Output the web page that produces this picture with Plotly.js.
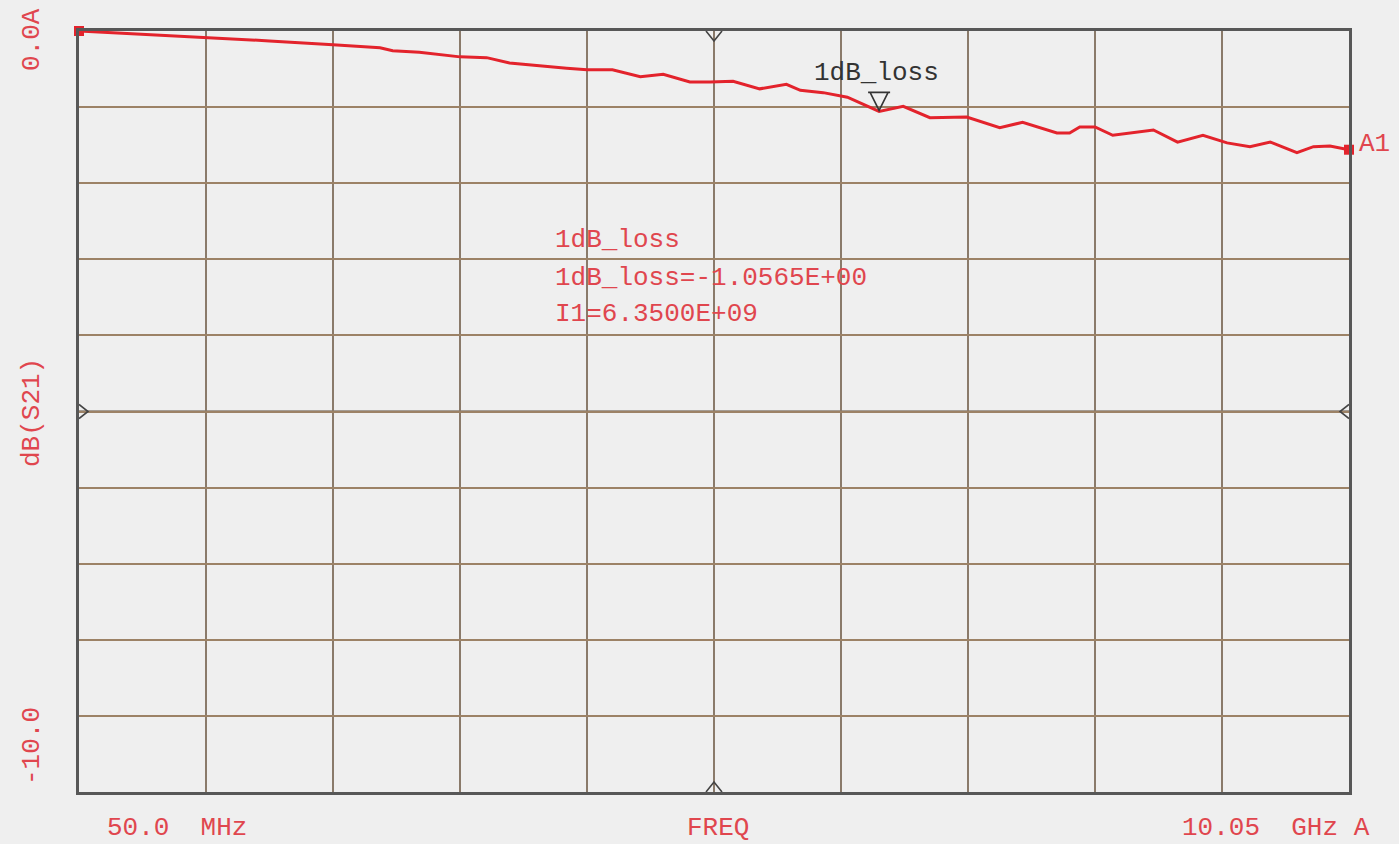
<!DOCTYPE html>
<html>
<head>
<meta charset="utf-8">
<script src="https://cdn.plot.ly/plotly-3.0.1.min.js"></script>
<style>
  html, body { margin: 0; padding: 0; background: #efefef; }
  #chart { width: 1399px; height: 844px; }
</style>
</head>
<body>
<div id="chart"></div>
<script>
// Frequency (GHz) and dB(S21)
const freqGHz = [0.05, 0.53, 1.06, 1.55, 2.05, 2.42, 2.52, 2.73, 3.05, 3.26, 3.44, 3.68, 3.89, 4.05, 4.25, 4.47, 4.65, 4.86, 5.02, 5.20, 5.41, 5.62, 5.73, 5.91, 6.10, 6.35, 6.54, 6.75, 7.04, 7.30, 7.48, 7.75, 7.85, 7.93, 8.05, 8.19, 8.51, 8.70, 8.90, 9.09, 9.27, 9.43, 9.64, 9.77, 9.90, 10.05];
const dbS21 = [0.000, -0.04, -0.09, -0.13, -0.18, -0.22, -0.26, -0.28, -0.34, -0.35, -0.42, -0.46, -0.49, -0.51, -0.51, -0.60, -0.57, -0.67, -0.67, -0.66, -0.76, -0.70, -0.78, -0.81, -0.87, -1.0565, -0.99, -1.14, -1.13, -1.27, -1.20, -1.34, -1.34, -1.26, -1.26, -1.37, -1.30, -1.46, -1.37, -1.47, -1.52, -1.46, -1.60, -1.52, -1.51, -1.56];

// Axis ranges and labels
const xRange = [0.05, 10.05];
const yRange = [-10, 0];
const xTickLabels = ["50.0  MHz", "FREQ", "10.05  GHz A"];
const yTickLabels = ["0.0A", "dB(S21)", "-10.0"];

// Marker
const markerName = "1dB_loss";
const markerFreq = 6.35;
const markerValue = -1.0565;
const markerLines = ["1dB_loss", "1dB_loss=-1.0565E+00", "I1=6.3500E+09"];
const traceName = "A1";

const RED = '#e0464e';
const LINE_RED = '#e3232c';
const FONT = '"Courier New", "Liberation Mono", monospace';

const xMid = (xRange[0] + xRange[1]) / 2;
const yMid = (yRange[0] + yRange[1]) / 2;

const traces = [
  {
    x: freqGHz, y: dbS21, type: 'scatter', mode: 'lines',
    line: { color: LINE_RED, width: 3 }, hoverinfo: 'skip', cliponaxis: false
  },
  {
    x: [freqGHz[0], freqGHz[freqGHz.length - 1]],
    y: [dbS21[0], dbS21[dbS21.length - 1]],
    type: 'scatter', mode: 'markers',
    marker: { symbol: 'square', size: 10, color: LINE_RED },
    cliponaxis: false, hoverinfo: 'skip'
  }
];

const ann = [];
function paperX(px) { return (px - 79) / 1270; }
function paperY(py) { return (792 - py) / 761; }

// y labels (rotated)
[[40, yTickLabels[0]], [413, yTickLabels[1]], [746, yTickLabels[2]]].forEach(([py, t]) => {
  ann.push({ xref: 'paper', yref: 'paper', x: paperX(32), y: paperY(py), text: t, showarrow: false,
    textangle: -90, xanchor: 'center', yanchor: 'middle', font: { family: FONT, size: 26, color: RED } });
});
// x labels
[[177, xTickLabels[0]], [718, xTickLabels[1]], [1276, xTickLabels[2]]].forEach(([px, t]) => {
  ann.push({ xref: 'paper', yref: 'paper', x: paperX(px), y: paperY(828), text: t, showarrow: false,
    xanchor: 'center', yanchor: 'middle', font: { family: FONT, size: 26, color: RED } });
});
// trace name
ann.push({ x: xRange[1], y: dbS21[dbS21.length - 1], text: traceName, showarrow: false, xanchor: 'left', yanchor: 'middle',
  xshift: 8, yshift: 6, font: { family: FONT, size: 26, color: RED } });
// marker label above triangle
ann.push({ x: markerFreq, y: markerValue, text: markerName, showarrow: false, xanchor: 'center', yanchor: 'middle',
  yshift: 38, xshift: -3, font: { family: FONT, size: 26, color: '#333' } });
// marker readout block
[240, 278, 314].forEach((py, i) => {
  ann.push({ xref: 'paper', yref: 'paper', x: paperX(553), y: paperY(py), text: markerLines[i], showarrow: false,
    xanchor: 'left', yanchor: 'middle', font: { family: FONT, size: 26, color: RED } });
});

const DARK = '#444';
const layout = {
  width: 1399, height: 844,
  paper_bgcolor: '#efefef', plot_bgcolor: '#efefef',
  margin: { l: 79, r: 50, t: 31, b: 52 },
  showlegend: false,
  xaxis: {
    range: xRange, tick0: 0.05, dtick: 1, showticklabels: false, ticks: '',
    showgrid: true, gridcolor: '#8a7a6a', gridwidth: 2, zeroline: false,
    showline: true, mirror: true, linecolor: '#575757', linewidth: 3
  },
  yaxis: {
    range: yRange, tick0: 0, dtick: 1, showticklabels: false, ticks: '',
    showgrid: true, gridcolor: '#9c8266', gridwidth: 2, zeroline: false,
    showline: true, mirror: true, linecolor: '#575757', linewidth: 3
  },
  shapes: [
    { type: 'line', xref: 'x', yref: 'paper', x0: xMid, x1: xMid, y0: 0, y1: 1, line: { color: '#4d4236', width: 2 }, layer: 'below' },
    { type: 'line', xref: 'paper', yref: 'y', x0: 0, x1: 1, y0: yMid, y1: yMid, line: { color: '#5a4a3a', width: 2 }, layer: 'below' },
    // marker triangle, apex on the trace point
    { type: 'path', xref: 'x', yref: 'y', xsizemode: 'pixel', ysizemode: 'pixel', xanchor: markerFreq, yanchor: markerValue,
      path: 'M-11,19 L11,19 M-9,19 L0,1 L9,19', line: { color: '#333', width: 1.6 } },
    // centre chevrons on the frame
    { type: 'path', xref: 'x', yref: 'y', xsizemode: 'pixel', ysizemode: 'pixel', xanchor: xMid, yanchor: yRange[1],
      path: 'M-8,0 L0,-10 L8,0', line: { color: DARK, width: 1.6 } },
    { type: 'path', xref: 'x', yref: 'y', xsizemode: 'pixel', ysizemode: 'pixel', xanchor: xMid, yanchor: yRange[0],
      path: 'M-8,0 L0,10 L8,0', line: { color: DARK, width: 1.6 } },
    { type: 'path', xref: 'x', yref: 'y', xsizemode: 'pixel', ysizemode: 'pixel', xanchor: xRange[0], yanchor: yMid,
      path: 'M0,7 L9,0 L0,-7', line: { color: DARK, width: 1.6 } },
    { type: 'path', xref: 'x', yref: 'y', xsizemode: 'pixel', ysizemode: 'pixel', xanchor: xRange[1], yanchor: yMid,
      path: 'M0,7 L-9,0 L0,-7', line: { color: DARK, width: 1.6 } }
  ],
  annotations: ann
};

Plotly.newPlot('chart', traces, layout, { staticPlot: true, displayModeBar: false });
</script>
</body>
</html>
